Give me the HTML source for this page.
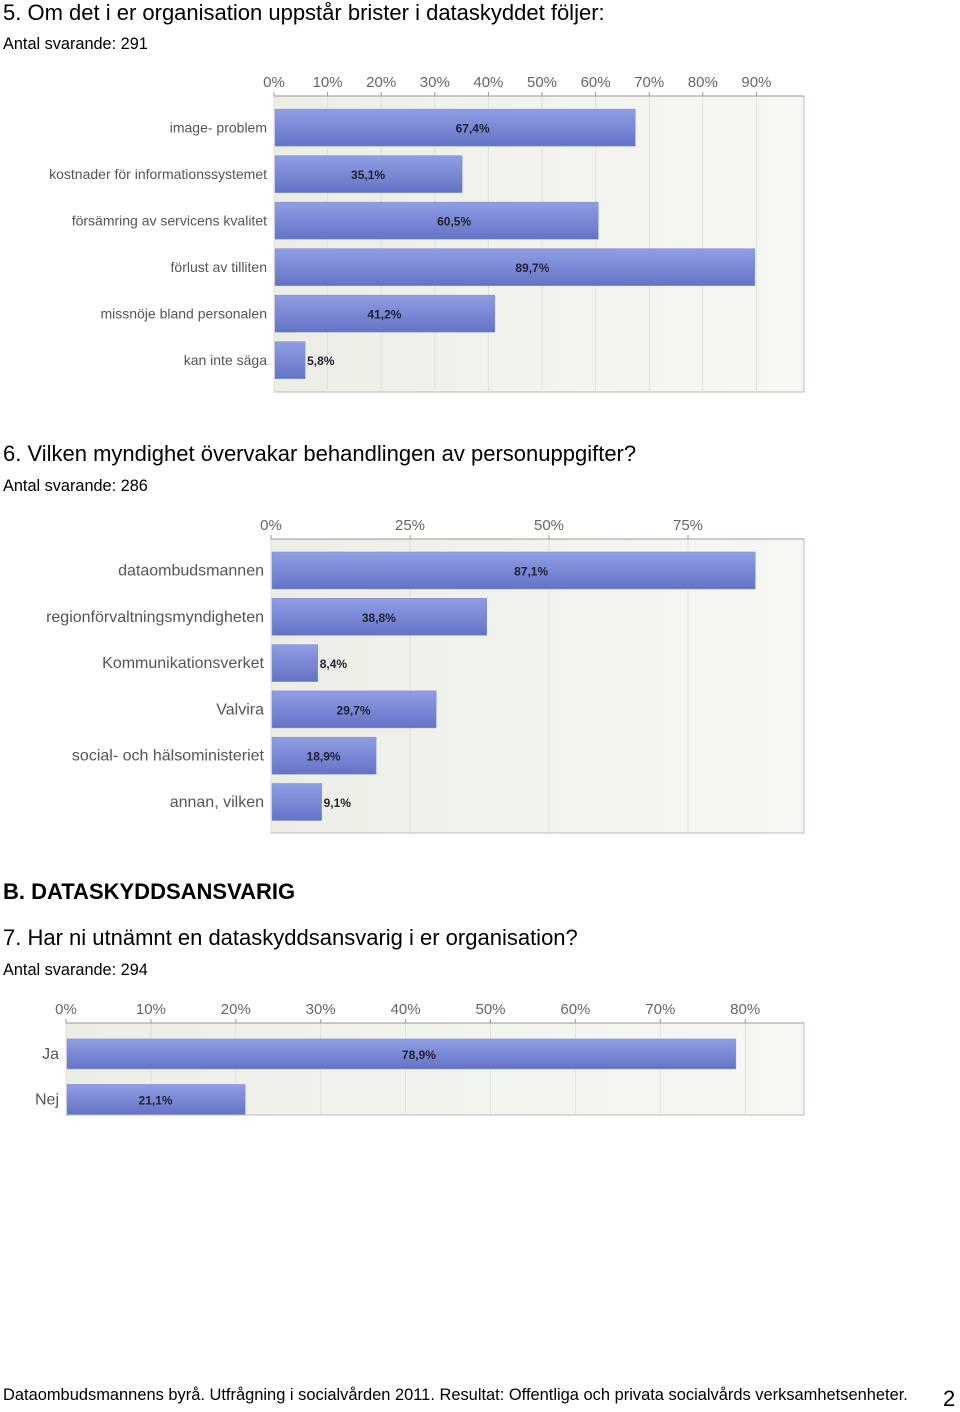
<!DOCTYPE html>
<html><head><meta charset="utf-8"><style>
body{margin:0;width:960px;height:1408px;background:#fff;font-family:"Liberation Sans",sans-serif;position:relative;overflow:hidden}
.t{position:absolute;left:3px;color:#000;white-space:nowrap}
.h{font-size:22px}.s{font-size:16.3px}
svg{position:absolute;left:0;top:0}
</style></head><body>
<div class="t h" style="top:0px">5. Om det i er organisation uppstår brister i dataskyddet följer:</div>
<div class="t s" style="top:35px">Antal svarande: 291</div>
<div class="t h" style="top:441px">6. Vilken myndighet övervakar behandlingen av personuppgifter?</div>
<div class="t s" style="top:477px">Antal svarande: 286</div>
<div class="t h" style="top:879px;font-weight:bold">B. DATASKYDDSANSVARIG</div>
<div class="t h" style="top:925px">7. Har ni utnämnt en dataskyddsansvarig i er organisation?</div>
<div class="t s" style="top:961px">Antal svarande: 294</div>
<div class="t s" style="top:1386px;font-size:16.45px">Dataombudsmannens byrå. Utfrågning i socialvården 2011. Resultat: Offentliga och privata socialvårds verksamhetsenheter.</div>
<div class="t h" style="top:1386px;left:943px">2</div>
<svg id="svg" width="960" height="1408">
<defs><linearGradient id="bg" x1="0" y1="0" x2="0" y2="1"><stop offset="0" stop-color="#8f9ee4"/><stop offset="1" stop-color="#6573c6"/></linearGradient>
<linearGradient id="pg" x1="0" y1="0" x2="1" y2="0"><stop offset="0" stop-color="#eceee6"/><stop offset="1" stop-color="#f7f8f4"/></linearGradient></defs>
</svg>
<script>
const c1Cats=["image- problem","kostnader för informationssystemet","försämring av servicens kvalitet","förlust av tilliten","missnöje bland personalen","kan inte säga"];
const c1Vals=[67.4,35.1,60.5,89.7,41.2,5.8];
const c1Ticks=[0,10,20,30,40,50,60,70,80,90];
const c2Cats=["dataombudsmannen","regionförvaltningsmyndigheten","Kommunikationsverket","Valvira","social- och hälsoministeriet","annan, vilken"];
const c2Vals=[87.1,38.8,8.4,29.7,18.9,9.1];
const c2Ticks=[0,25,50,75];
const c3Cats=["Ja","Nej"];
const c3Vals=[78.9,21.1];
const c3Ticks=[0,10,20,30,40,50,60,70,80];
const svg=document.getElementById('svg');const NS='http://www.w3.org/2000/svg';
function mk(t,a,p){const e=document.createElementNS(NS,t);for(const k in a)e.setAttribute(k,a[k]);(p||svg).appendChild(e);return e;}
function chart(id,cats,vals,ticks,x0,full,top,bottom,step,bh,lfs){
 const g=mk('g',{});
 
 
 const sx=v=>x0+v/100*full;
 mk('rect',{x:x0,y:top,width:804-x0,height:bottom-top,fill:'url(#pg)',stroke:'#bbb'},g);
 ticks.forEach(t=>{const x=sx(t);
  mk('line',{x1:x,y1:top,x2:x,y2:bottom,stroke:'#e0e2da'},g);
  mk('line',{x1:x,y1:top-4,x2:x,y2:top,stroke:'#999'},g);
  const tx=mk('text',{x:x,y:top-9,'text-anchor':'middle','font-size':15,fill:'#666'},g);
  
  
  tx.textContent=t+'%';});
 mk('line',{x1:x0,y1:top,x2:804,y2:top,stroke:'#999'},g);
 cats.forEach((c,i)=>{const cy=top+step*(i+0.68);
  const l=mk('text',{x:x0-7,y:cy+5,'text-anchor':'end','font-size':lfs,fill:'#555'},g);
  
  
  l.textContent=c;
  const r=mk('rect',{x:x0+1,y:cy-bh/2,width:sx(vals[i])-x0-1,height:bh,fill:'url(#bg)',stroke:'#7f8bd0','stroke-width':0.5},g);
  
  
  const vx=vals[i]<12?sx(vals[i])+2:(x0+sx(vals[i]))/2+(vals[i]>50?18:0);
  const v=mk('text',{x:vx,y:cy+5,'text-anchor':vals[i]<12?'start':'middle','font-size':12,fill:'#223','font-weight':'bold'},g);
  
  
  v.textContent=vals[i].toFixed(1).replace('.',',')+'%';});
}
chart('chart-q5',c1Cats,c1Vals,c1Ticks,274,536,96,392,46.5,37,14);
chart('chart-q6',c2Cats,c2Vals,c2Ticks,271,556,539,833,46.3,37,16);
chart('chart-q7',c3Cats,c3Vals,c3Ticks,66,849,1023,1115,45.5,30,16);
</script>
</body></html>
